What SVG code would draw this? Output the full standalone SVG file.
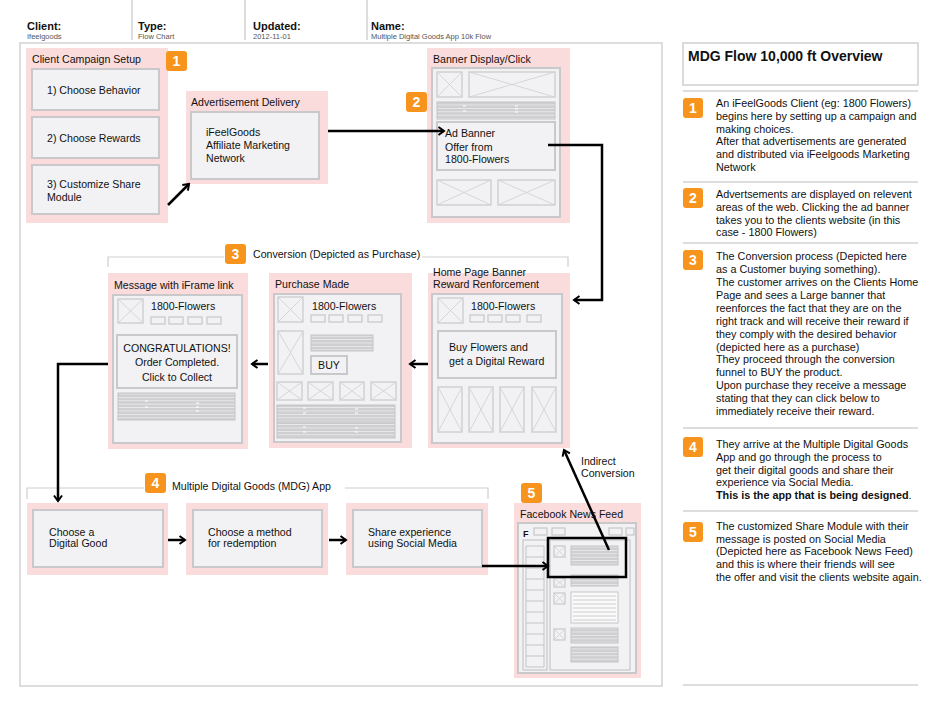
<svg xmlns="http://www.w3.org/2000/svg" width="940" height="727" viewBox="0 0 940 727">
<style>
text{font-family:"Liberation Sans",Arial,sans-serif;fill:#111}
.h1{font-size:11px;font-weight:bold}
.h2{font-size:7.5px;fill:#555}
.t{font-size:10.6px}
.rp{font-size:10.8px}
.pink{fill:#fbdcdd;stroke:none}
.ib{fill:#f2f2f4;stroke:#c9c9cb;stroke-width:2}
.ph{fill:#f2f2f4;stroke:#cbcbcd;stroke-width:1.3}
.phx{fill:none;stroke:#d2d2d4;stroke-width:0.9}
.sb{fill:#f2f2f4;stroke:#c4c4c6;stroke-width:1.1}
.st{fill:url(#stripes);stroke:#c4c4c6;stroke-width:1}
.badge{fill:#f7941e}
.bn{font-size:14px;font-weight:bold;fill:#fff;text-anchor:middle}
.sep{stroke:#d2d2d2;stroke-width:1.5;fill:none}
.br{stroke:#cfcfcf;stroke-width:1.2;fill:none}
.con{stroke:#000;stroke-width:2.5;fill:none;marker-end:url(#ah)}
</style>
<defs>
<pattern id="stripes" patternUnits="userSpaceOnUse" width="6" height="3.4">
<rect width="6" height="3.4" fill="#cfcfd1"/>
<rect y="2.6" width="6" height="0.8" fill="#ececec"/>
</pattern>
<marker id="ah" viewBox="0 0 10 10" refX="8" refY="5" markerWidth="4" markerHeight="4" orient="auto" markerUnits="strokeWidth">
<path d="M2.5,1 L8,5 L2.5,9" fill="none" stroke="#000" stroke-width="2"/>
</marker>
</defs>
<rect width="940" height="727" fill="#fff"/>

<g id="header">
<path class="sep" d="M132,0V40M245,0V40M367,0V40"/>
<text class="h1" x="27" y="30">Client:</text>
<text class="h2" x="27" y="38.5">Ifeelgoods</text>
<text class="h1" x="138" y="30">Type:</text>
<text class="h2" x="138" y="38.5">Flow Chart</text>
<text class="h1" x="253" y="30">Updated:</text>
<text class="h2" x="253" y="38.5">2012-11-01</text>
<text class="h1" x="371" y="30">Name:</text>
<text class="h2" x="371" y="38.5">Multiple Digital Goods App 10k Flow</text>
</g>

<rect x="20" y="43" width="642" height="643" fill="none" stroke="#d2d2d2" stroke-width="1.5"/>

<g id="n-campaign">
<rect class="pink" x="26" y="48" width="142" height="175"/>
<text class="t" x="32" y="63">Client Campaign Setup</text>
<rect class="ib" x="32" y="69" width="127" height="41"/>
<text class="t" x="47" y="94">1) Choose Behavior</text>
<rect class="ib" x="32" y="117" width="127" height="41"/>
<text class="t" x="47" y="142">2) Choose Rewards</text>
<rect class="ib" x="32" y="165" width="127" height="49"/>
<text class="t" x="47" y="188">3) Customize Share</text>
<text class="t" x="47" y="201">Module</text>
<rect class="badge" x="166" y="51" width="21" height="20" rx="3"/>
<text class="bn" x="176.5" y="66">1</text>
</g>

<g id="n-addelivery">
<rect class="pink" x="186" y="91" width="142" height="93"/>
<text class="t" x="191" y="106">Advertisement Delivery</text>
<rect class="ib" x="191" y="112" width="128" height="67"/>
<text class="t" x="206" y="136">iFeelGoods</text>
<text class="t" x="206" y="149">Affiliate Marketing</text>
<text class="t" x="206" y="161.5">Network</text>
</g>

<g id="n-banner">
<rect class="pink" x="427" y="48" width="143" height="175"/>
<text class="t" x="433" y="63">Banner Display/Click</text>
<rect class="ib" x="432" y="68" width="128" height="149"/>
<rect class="ph" x="437" y="72" width="25" height="25"/><path class="phx" d="M437,72L462,97M462,72L437,97"/>
<rect class="ph" x="469" y="72" width="86" height="25"/><path class="phx" d="M469,72L555,97M555,72L469,97"/>
<rect class="st" x="437" y="102" width="118" height="17"/>
<path d="M463,106h3M463,111h3M515,106h3M515,109h3M515,112h3" stroke="#fff" stroke-width="1"/>
<rect class="ib" x="437" y="122" width="118" height="48" stroke-width="1.5"/>
<text class="t" x="445" y="137">Ad Banner</text>
<text class="t" x="445" y="150.5">Offer from</text>
<text class="t" x="445" y="163">1800-Flowers</text>
<rect class="ph" x="437" y="180" width="54" height="25"/><path class="phx" d="M437,180L491,205M491,180L437,205"/>
<rect class="ph" x="498" y="180" width="57" height="25"/><path class="phx" d="M498,180L555,205M555,180L498,205"/>
<rect class="badge" x="406" y="92" width="21" height="20" rx="3"/>
<text class="bn" x="416.5" y="107">2</text>
</g>

<g id="conversion-bracket">
<path class="br" d="M108,267V257H224M422,257H568V267"/>
<rect class="badge" x="225" y="244" width="21" height="20" rx="3"/>
<text class="bn" x="235.5" y="259">3</text>
<text class="t" x="253" y="258">Conversion (Depicted as Purchase)</text>
</g>

<g id="n-message">
<rect class="pink" x="108" y="273" width="140" height="176"/>
<text class="t" x="114" y="289">Message with iFrame link</text>
<rect class="ib" x="113" y="295" width="129" height="148"/>
<rect class="ph" x="118" y="299" width="25" height="24"/><path class="phx" d="M118,299L143,323M143,299L118,323"/>
<text class="t" x="151" y="310">1800-Flowers</text>
<rect class="sb" x="151" y="317" width="14" height="7"/>
<rect class="sb" x="169" y="317" width="14" height="7"/>
<rect class="sb" x="188" y="317" width="14" height="7"/>
<rect class="sb" x="207" y="317" width="14" height="7"/>
<rect class="ib" x="117" y="335" width="120" height="53" stroke-width="1.5"/>
<text class="t" x="177" y="352" text-anchor="middle">CONGRATULATIONS!</text>
<text class="t" x="177" y="366" text-anchor="middle">Order Completed.</text>
<text class="t" x="177" y="381" text-anchor="middle">Click to Collect</text>
<rect class="st" x="118" y="393" width="117" height="27"/>
<path d="M145,401h3M145,407h3M196,403h3M196,407h3M196,411h3" stroke="#fff" stroke-width="1"/>
</g>

<g id="n-purchase">
<rect class="pink" x="269" y="273" width="143" height="175"/>
<text class="t" x="275" y="288">Purchase Made</text>
<rect class="ib" x="274" y="294" width="127" height="148"/>
<rect class="ph" x="278" y="297" width="25" height="25"/><path class="phx" d="M278,297L303,322M303,297L278,322"/>
<text class="t" x="312" y="310">1800-Flowers</text>
<rect class="sb" x="311" y="315" width="14" height="7"/>
<rect class="sb" x="329" y="315" width="14" height="7"/>
<rect class="sb" x="348" y="315" width="14" height="7"/>
<rect class="sb" x="368" y="315" width="14" height="7"/>
<rect class="ph" x="278" y="331" width="25" height="43"/><path class="phx" d="M278,331L303,374M303,331L278,374"/>
<rect class="st" x="311" y="335" width="62" height="16"/>
<rect class="ib" x="311" y="356" width="36" height="18" stroke-width="1.5"/>
<text class="t" x="329" y="369" text-anchor="middle">BUY</text>
<rect class="ph" x="277" y="382" width="25" height="18"/><path class="phx" d="M277,382L302,400M302,382L277,400"/>
<rect class="ph" x="308" y="382" width="25" height="18"/><path class="phx" d="M308,382L333,400M333,382L308,400"/>
<rect class="ph" x="340" y="382" width="24" height="18"/><path class="phx" d="M340,382L364,400M364,382L340,400"/>
<rect class="ph" x="371" y="382" width="25" height="18"/><path class="phx" d="M371,382L396,400M396,382L371,400"/>
<rect class="st" x="277" y="405" width="118" height="17"/>
<rect class="st" x="277" y="423" width="118" height="15"/>
<path d="M303,408h3M303,413h3M303,427h3M303,432h3M355,409h3M355,413h3M355,428h3M355,432h3" stroke="#fff" stroke-width="1"/>
</g>

<g id="n-homepage">
<rect class="pink" x="428" y="273" width="142" height="175"/>
<text class="t" x="433" y="276">Home Page Banner</text>
<text class="t" x="433" y="288">Reward Renforcement</text>
<rect class="ib" x="432" y="294" width="130" height="149"/>
<rect class="ph" x="438" y="298" width="25" height="25"/><path class="phx" d="M438,298L463,323M463,298L438,323"/>
<text class="t" x="471" y="310">1800-Flowers</text>
<rect class="sb" x="470" y="315" width="14" height="7"/>
<rect class="sb" x="488" y="315" width="14" height="7"/>
<rect class="sb" x="506" y="315" width="14" height="7"/>
<rect class="sb" x="527" y="315" width="14" height="7"/>
<rect class="ib" x="438" y="331" width="118" height="47" stroke-width="1.5"/>
<text class="t" x="449" y="351">Buy Flowers and</text>
<text class="t" x="449" y="365">get a Digital Reward</text>
<rect class="ph" x="438" y="387" width="24" height="45"/><path class="phx" d="M438,387L462,432M462,387L438,432"/>
<rect class="ph" x="469" y="387" width="24" height="45"/><path class="phx" d="M469,387L493,432M493,387L469,432"/>
<rect class="ph" x="500" y="387" width="24" height="45"/><path class="phx" d="M500,387L524,432M524,387L500,432"/>
<rect class="ph" x="532" y="387" width="24" height="45"/><path class="phx" d="M532,387L556,432M556,387L532,432"/>
</g>

<g id="mdg-bracket">
<path class="br" d="M27,499V488H144M345,488H488V499"/>
<rect class="badge" x="145" y="473" width="21" height="20" rx="3"/>
<text class="bn" x="155.5" y="488">4</text>
<text class="t" x="172" y="490">Multiple Digital Goods (MDG) App</text>
</g>

<g id="n-choosegood">
<rect class="pink" x="27" y="503" width="141" height="72"/>
<rect class="ib" x="33" y="510" width="130" height="57"/>
<text class="t" x="49" y="535.5">Choose a</text>
<text class="t" x="49" y="547">Digital Good</text>
</g>
<g id="n-choosemethod">
<rect class="pink" x="186" y="503" width="142" height="72"/>
<rect class="ib" x="193" y="510" width="129" height="57"/>
<text class="t" x="208" y="535.5">Choose a method</text>
<text class="t" x="208" y="547">for redemption</text>
</g>
<g id="n-share">
<rect class="pink" x="346" y="503" width="142" height="72"/>
<rect class="ib" x="353" y="510" width="129" height="57"/>
<text class="t" x="368" y="535.5">Share experience</text>
<text class="t" x="368" y="547">using Social Media</text>
</g>

<g id="n-facebook">
<rect class="pink" x="514" y="503" width="127" height="175"/>
<text class="t" x="520" y="518">Facebook News Feed</text>
<rect class="ib" x="518" y="523" width="118" height="150" stroke-width="1.5"/>
<text x="523" y="537" style="font-size:9px;font-weight:bold">F</text>
<rect class="sb" x="534" y="528" width="13" height="7"/>
<rect class="sb" x="552" y="528" width="13" height="7"/>
<rect class="sb" x="609" y="528" width="13" height="7"/>
<rect class="sb" x="626" y="528" width="8" height="7"/>
<rect class="sb" x="523" y="540" width="24" height="130"/>
<path d="M526,546h18v121h-18zM526,557h18M526,568h18M526,579h18M526,590h18M526,601h18M526,612h18M526,623h18M526,634h18M526,645h18M526,656h18" fill="none" stroke="#c4c4c6" stroke-width="1"/>
<rect class="sb" x="550" y="540" width="80" height="130"/>
<rect class="ph" x="554" y="546" width="11" height="11"/><path class="phx" d="M554,546L565,557M565,546L554,557"/>
<rect class="st" x="571" y="546" width="47" height="19"/>
<rect class="ph" x="554" y="578" width="11" height="9"/><path class="phx" d="M554,578L565,587M565,578L554,587"/>
<rect class="st" x="571" y="575" width="47" height="11"/>
<rect class="ph" x="554" y="593" width="11" height="11"/><path class="phx" d="M554,593L565,604M565,593L554,604"/>
<rect x="571" y="592" width="47" height="31" fill="#fafafa" stroke="#c4c4c6" stroke-width="1"/>
<path d="M573,596h43M573,600h43M573,604h43M573,608h43M573,612h43M573,616h43M573,620h43" stroke="#c8c8ca" stroke-width="0.9"/>
<rect class="ph" x="554" y="629" width="11" height="11"/><path class="phx" d="M554,629L565,640M565,629L554,640"/>
<rect class="st" x="571" y="628" width="47" height="15"/>
<rect class="st" x="571" y="647" width="47" height="15"/>
<rect x="548" y="538" width="78" height="39" fill="none" stroke="#000" stroke-width="2.5"/>
<rect class="badge" x="521" y="483" width="21" height="20" rx="3"/>
<text class="bn" x="531.5" y="498">5</text>
</g>

<g id="connectors">
<path class="con" d="M168,205L189,184"/>
<path class="con" d="M328,131H444"/>
<path class="con" d="M548,145H602V300H574"/>
<path class="con" d="M428,364H410"/>
<path class="con" d="M268,364H252"/>
<path class="con" d="M108,364H58V501"/>
<path class="con" d="M168,540H185"/>
<path class="con" d="M329,540H346"/>
<path class="con" d="M482,566H548"/>
<path class="con" d="M609,550L564,450"/>
<text class="t" x="581" y="465">Indirect</text>
<text class="t" x="581" y="477">Conversion</text>
</g>

<g id="panel">
<rect x="683" y="43" width="235" height="42" fill="#fff" stroke="#d0d0d0" stroke-width="1.5"/>
<text x="688" y="61" style="font-size:14px;font-weight:bold">MDG Flow 10,000 ft Overview</text>
<path class="sep" d="M683,91H918M683,182H918M683,243H918M683,428H918M683,511H918M683,685H918"/>
<rect class="badge" x="683" y="98" width="20" height="20" rx="3"/><text class="bn" x="693" y="113">1</text>
<text class="rp" x="716" y="107">An iFeelGoods Client (eg: 1800 Flowers)</text>
<text class="rp" x="716" y="120">begins here by setting up a campaign and</text>
<text class="rp" x="716" y="132.5">making choices.</text>
<text class="rp" x="716" y="145.3">After that advertisements are generated</text>
<text class="rp" x="716" y="158">and distributed via iFeelgoods Marketing</text>
<text class="rp" x="716" y="171">Network</text>
<rect class="badge" x="683" y="188" width="20" height="20" rx="3"/><text class="bn" x="693" y="203">2</text>
<text class="rp" x="716" y="198">Advertsements are displayed on relevent</text>
<text class="rp" x="716" y="211">areas of the web. Clicking the ad banner</text>
<text class="rp" x="716" y="223.5">takes you to the clients website (in this</text>
<text class="rp" x="716" y="236">case - 1800 Flowers)</text>
<rect class="badge" x="683" y="250" width="20" height="20" rx="3"/><text class="bn" x="693" y="265">3</text>
<text class="rp" x="716" y="260">The Conversion process (Depicted here</text>
<text class="rp" x="716" y="273">as a Customer buying something).</text>
<text class="rp" x="716" y="286">The customer arrives on the Clients Home</text>
<text class="rp" x="716" y="299">Page and sees a Large banner that</text>
<text class="rp" x="716" y="312">reenforces the fact that they are on the</text>
<text class="rp" x="716" y="325">right track and will receive their reward if</text>
<text class="rp" x="716" y="337.5">they comply with the desired behavior</text>
<text class="rp" x="716" y="350.5">(depicted here as a purchase)</text>
<text class="rp" x="716" y="363">They proceed through the conversion</text>
<text class="rp" x="716" y="376">funnel to BUY the product.</text>
<text class="rp" x="716" y="389">Upon purchase they receive a message</text>
<text class="rp" x="716" y="401.5">stating that they can click below to</text>
<text class="rp" x="716" y="414.5">immediately receive their reward.</text>
<rect class="badge" x="683" y="437" width="20" height="20" rx="3"/><text class="bn" x="693" y="452">4</text>
<text class="rp" x="716" y="448">They arrive at the Multiple Digital Goods</text>
<text class="rp" x="716" y="460.7">App and go through the process to</text>
<text class="rp" x="716" y="473.5">get their digital goods and share their</text>
<text class="rp" x="716" y="486.3">experience via Social Media.</text>
<text class="rp" x="716" y="499"><tspan font-weight="bold">This is the app that is being designed</tspan>.</text>
<rect class="badge" x="683" y="522" width="20" height="20" rx="3"/><text class="bn" x="693" y="537">5</text>
<text class="rp" x="716" y="530">The customized Share Module with their</text>
<text class="rp" x="716" y="542.5">message is posted on Social Media</text>
<text class="rp" x="716" y="555">(Depicted here as Facebook News Feed)</text>
<text class="rp" x="716" y="568">and this is where their friends will see</text>
<text class="rp" x="716" y="580.7">the offer and visit the clients website again.</text>
</g>
</svg>
